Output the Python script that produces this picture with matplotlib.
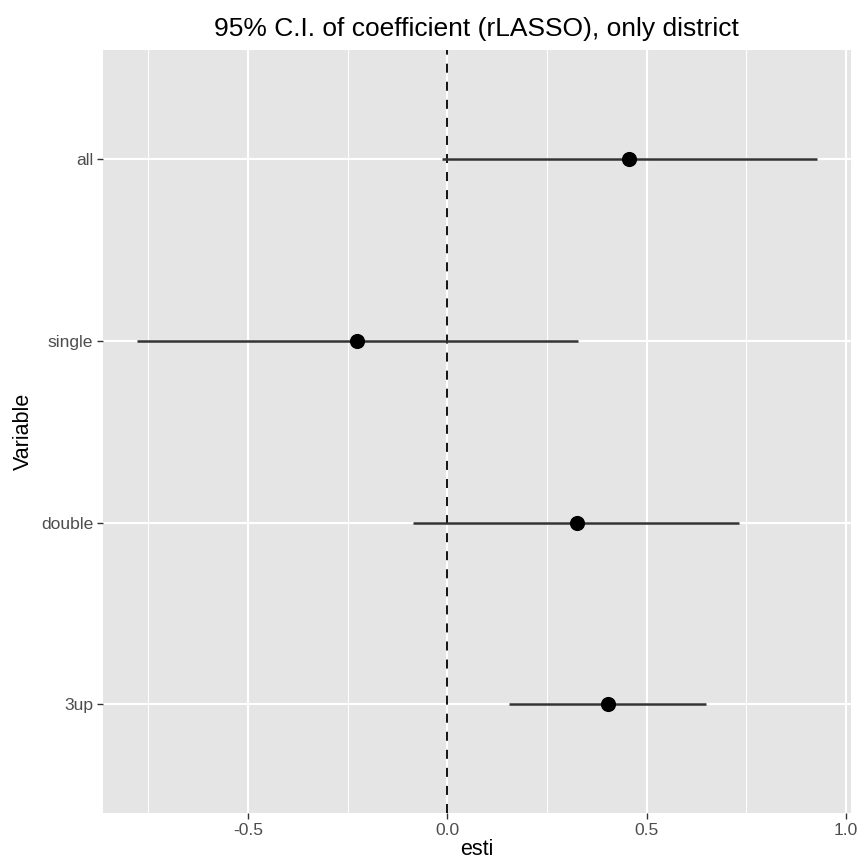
import matplotlib
matplotlib.use("Agg")
import matplotlib.pyplot as plt
from matplotlib.ticker import MultipleLocator

variables = ["all", "single", "double", "3up"]
estimates = [0.456, -0.227, 0.3245, 0.4025]
lower = [-0.014, -0.779, -0.085, 0.156]
upper = [0.927, 0.327, 0.733, 0.650]

plt.rcParams['font.family'] = ['Liberation Sans', 'DejaVu Sans']
plt.rcParams['axes.unicode_minus'] = False

fig = plt.figure(figsize=(8.62, 8.67), dpi=100)
ax = fig.add_axes([102.7/862, 1 - 813.3/867, 748/862, (813.3-50)/867])
ax.set_facecolor('#E5E5E5')

n = len(variables)
ypos = [n - i for i in range(n)]

# limits with ggplot-like expansion
lo_all, hi_all = min(lower), max(upper)
span = hi_all - lo_all
ax.set_xlim(lo_all - 0.05*span, hi_all + 0.05*span)
ax.set_ylim(0.4, n + 0.6)

ax.xaxis.set_major_locator(MultipleLocator(0.5))
ax.xaxis.set_minor_locator(MultipleLocator(0.25))
ax.set_yticks(ypos)
ax.set_yticklabels(variables)

ax.grid(which='major', color='white', linewidth=1.5, zorder=0)
ax.grid(which='minor', axis='x', color='white', linewidth=0.75, zorder=0)
ax.set_axisbelow(True)

for s in ax.spines.values():
    s.set_visible(False)

ax.tick_params(axis='both', which='major', length=4.3, width=1.0, color='#333333',
               labelcolor='#4D4D4D', labelsize=12.6, pad=2.5)
ax.tick_params(axis='both', which='minor', length=0)

ax.axvline(0, color='black', linewidth=1.3, linestyle=(0, (5, 5)), zorder=2)

for y, e, l, u in zip(ypos, estimates, lower, upper):
    ax.plot([l, u], [y, y], color='#333333', linewidth=1.8, solid_capstyle='butt', zorder=3)
    ax.plot([e], [y], 'o', color='black', markersize=9.9, zorder=4)

ax.set_xlabel('esti', fontsize=15.5, color='black', labelpad=1)
ax.set_ylabel('Variable', fontsize=15.5, color='black', labelpad=5)
ax.set_title('95% C.I. of coefficient (rLASSO), only district', fontsize=19, pad=10)

fig.savefig('out.png', dpi=100)
